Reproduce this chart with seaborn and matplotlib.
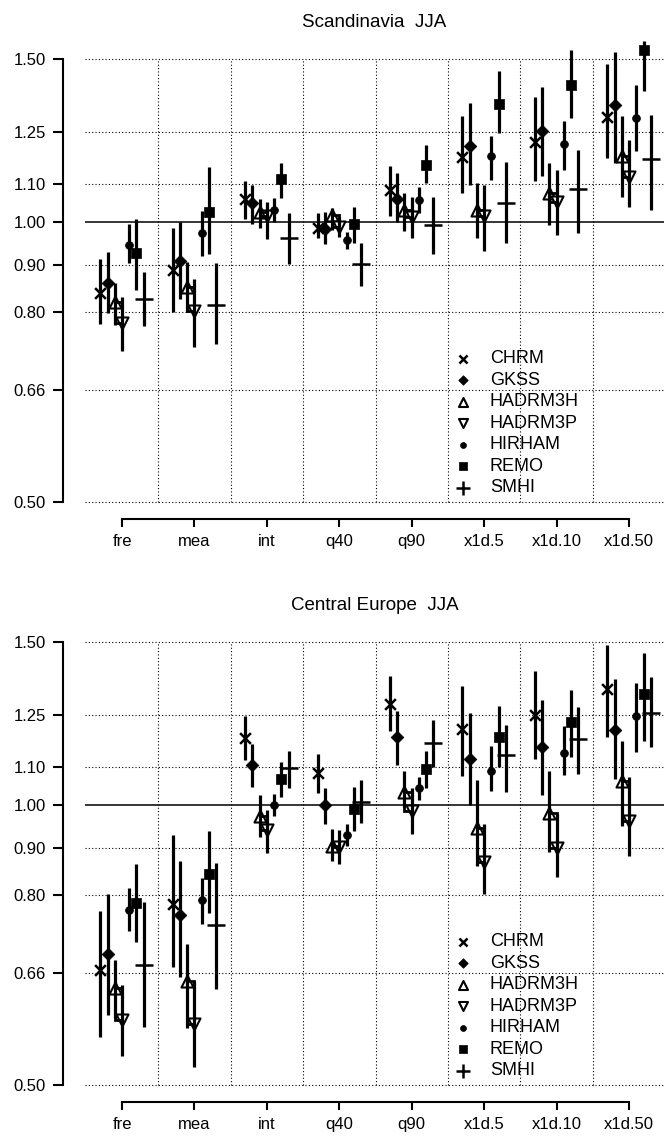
import numpy as np
import matplotlib
matplotlib.use("Agg")
import matplotlib.pyplot as plt
from matplotlib.ticker import NullLocator
import seaborn as sns

sns.set_style("white")
plt.rcParams['font.family'] = ['Liberation Sans', 'DejaVu Sans']
plt.rcParams['text.color'] = 'black'
plt.rcParams['axes.labelcolor'] = 'black'
plt.rcParams['xtick.color'] = 'black'
plt.rcParams['ytick.color'] = 'black'

groups = ['fre', 'mea', 'int', 'q40', 'q90', 'x1d.5', 'x1d.10', 'x1d.50']
models = ['CHRM', 'GKSS', 'HADRM3H', 'HADRM3P', 'HIRHAM', 'REMO', 'SMHI']
ytick_vals = [0.50, 0.66, 0.80, 0.90, 1.00, 1.10, 1.25, 1.50]
ytick_labels = ['0.50', '0.66', '0.80', '0.90', '1.00', '1.10', '1.25', '1.50']
titles = ['Scandinavia  JJA', 'Central Europe  JJA']

# ---- Scandinavia JJA ----
sc_val = {
    'CHRM':    [0.839, 0.888, 1.059, 0.987, 1.084, 1.175, 1.220, 1.300],
    'GKSS':    [0.861, 0.908, 1.049, 0.984, 1.059, 1.210, 1.256, 1.337],
    'HADRM3H': [0.820, 0.851, 1.027, 1.018, 1.030, 1.030, 1.075, 1.180],
    'HADRM3P': [0.780, 0.803, 1.016, 0.989, 1.014, 1.016, 1.051, 1.118],
    'HIRHAM':  [0.946, 0.974, 1.031, 0.957, 1.057, 1.180, 1.216, 1.295],
    'REMO':    [0.927, 1.026, 1.113, 0.995, 1.152, 1.343, 1.406, 1.532],
    'SMHI':    [0.827, 0.815, 0.963, 0.903, 0.993, 1.049, 1.086, 1.171],
}
sc_lo = {
    'CHRM':    [0.777, 0.800, 1.008, 0.961, 1.016, 1.077, 1.107, 1.173],
    'GKSS':    [0.799, 0.827, 0.997, 0.947, 1.000, 1.098, 1.121, 1.159],
    'HADRM3H': [0.775, 0.800, 0.985, 0.981, 0.979, 0.963, 0.993, 1.066],
    'HADRM3P': [0.727, 0.734, 0.959, 0.965, 0.961, 0.932, 0.969, 1.038],
    'HIRHAM':  [0.904, 0.921, 1.000, 0.937, 1.023, 1.111, 1.140, 1.193],
    'REMO':    [0.846, 0.925, 1.063, 0.949, 1.102, 1.249, 1.297, 1.386],
    'SMHI':    [0.774, 0.739, 0.903, 0.853, 0.925, 0.949, 0.975, 1.031],
}
sc_hi = {
    'CHRM':    [0.914, 0.987, 1.107, 1.023, 1.151, 1.302, 1.364, 1.482],
    'GKSS':    [0.929, 1.000, 1.098, 1.027, 1.130, 1.346, 1.398, 1.525],
    'HADRM3H': [0.860, 0.906, 1.059, 1.036, 1.075, 1.102, 1.159, 1.302],
    'HADRM3P': [0.830, 0.870, 1.053, 1.014, 1.066, 1.098, 1.140, 1.228],
    'HIRHAM':  [0.995, 1.029, 1.062, 0.977, 1.093, 1.239, 1.286, 1.406],
    'REMO':    [1.008, 1.146, 1.159, 1.040, 1.213, 1.457, 1.532, 1.570],
    'SMHI':    [0.884, 0.904, 1.024, 0.950, 1.066, 1.162, 1.198, 1.307],
}

# ---- Central Europe JJA ----
ce_val = {
    'CHRM':    [0.665, 0.783, 1.181, 1.084, 1.287, 1.209, 1.252, 1.335],
    'GKSS':    [0.692, 0.761, 1.105, 1.000, 1.184, 1.122, 1.155, 1.206],
    'HADRM3H': [0.636, 0.646, 0.975, 0.905, 1.034, 0.945, 0.982, 1.063],
    'HADRM3P': [0.587, 0.582, 0.941, 0.901, 0.986, 0.868, 0.900, 0.961],
    'HIRHAM':  [0.772, 0.790, 1.002, 0.930, 1.044, 1.090, 1.140, 1.249],
    'REMO':    [0.785, 0.844, 1.067, 0.990, 1.094, 1.186, 1.230, 1.319],
    'SMHI':    [0.673, 0.743, 1.096, 1.008, 1.167, 1.133, 1.178, 1.259],
}
ce_lo = {
    'CHRM':    [0.563, 0.670, 1.119, 1.031, 1.203, 1.075, 1.121, 1.186],
    'GKSS':    [0.594, 0.654, 1.047, 0.955, 1.105, 1.002, 1.025, 1.069],
    'HADRM3H': [0.590, 0.575, 0.925, 0.872, 0.996, 0.860, 0.890, 0.950],
    'HADRM3P': [0.537, 0.523, 0.889, 0.864, 0.932, 0.803, 0.837, 0.882],
    'HIRHAM':  [0.733, 0.745, 0.973, 0.905, 1.013, 1.036, 1.078, 1.143],
    'REMO':    [0.712, 0.765, 1.021, 0.939, 1.043, 1.100, 1.128, 1.174],
    'SMHI':    [0.577, 0.634, 1.043, 0.957, 1.100, 1.034, 1.080, 1.157],
}
ce_hi = {
    'CHRM':    [0.770, 0.930, 1.249, 1.135, 1.378, 1.346, 1.395, 1.488],
    'GKSS':    [0.803, 0.871, 1.164, 1.045, 1.263, 1.259, 1.300, 1.369],
    'HADRM3H': [0.682, 0.709, 1.027, 0.943, 1.089, 1.064, 1.089, 1.174],
    'HADRM3P': [0.640, 0.646, 0.989, 0.941, 1.043, 0.954, 0.979, 1.073],
    'HIRHAM':  [0.814, 0.835, 1.028, 0.954, 1.073, 1.160, 1.218, 1.356],
    'REMO':    [0.864, 0.939, 1.113, 1.047, 1.145, 1.279, 1.333, 1.461],
    'SMHI':    [0.787, 0.866, 1.145, 1.064, 1.235, 1.221, 1.275, 1.376],
}

panels = [(sc_val, sc_lo, sc_hi), (ce_val, ce_lo, ce_hi)]

# marker styles
mstyle = {
    'CHRM':    dict(marker='x', s=60, color='black', linewidth=1.8),
    'GKSS':    dict(marker='D', s=42, color='black', edgecolor='black', linewidth=0.5),
    'HADRM3H': dict(marker='^', s=75, color='white', edgecolor='black', linewidth=1.5),
    'HADRM3P': dict(marker='v', s=75, color='white', edgecolor='black', linewidth=1.5),
    'HIRHAM':  dict(marker='o', s=32, color='black', edgecolor='black', linewidth=0.5),
    'REMO':    dict(marker='s', s=50, color='black', edgecolor='black', linewidth=0.5),
    'SMHI':    dict(marker='+', s=160, color='black', linewidth=1.8),
}

W, H = 664, 1139
fig = plt.figure(figsize=(W / 100, H / 100), dpi=100)

px_per_ln = 403.0
ax_left_px = 85
ax_specs = [(37, 519, 59), (620, 1102, 642)]  # top px, bottom px, px of 1.50
g_x = np.arange(len(groups))
step = 0.1

for pi, (vals, los, his) in enumerate(panels):
    top, bot, y15 = ax_specs[pi]
    ax = fig.add_axes([ax_left_px / W, 1 - bot / H, (W - ax_left_px) / W, (bot - top) / H])
    ax.set_yscale('log')
    hi_lim = 1.5 * np.exp((y15 - top) / px_per_ln)
    lo_lim = hi_lim * np.exp(-(bot - top) / px_per_ln)
    ax.set_ylim(lo_lim, hi_lim)
    ax.set_xlim(-0.511, 7.483)

    # grid
    dot = (0, (1, 2))
    for t in ytick_vals:
        if t == 1.0:
            ax.axhline(1.0, color='black', lw=1.1, zorder=1)
        else:
            ax.axhline(t, color='black', lw=0.8, ls=dot, zorder=1)
    ax.vlines(g_x[:-1] + 0.5, 0.5, 1.5, colors='black', lw=0.8, linestyles=[dot], zorder=1)

    # bars and markers
    for mi, m in enumerate(models):
        xs = g_x + (mi - 3) * step
        ax.vlines(xs, los[m], his[m], colors='black', lw=2.3, zorder=5)
        kw = dict(mstyle[m])
        sns.scatterplot(x=xs, y=vals[m], ax=ax, label=m, zorder=4, **kw)

    # connecting box between HADRM3H and HADRM3P
    xh = g_x + (2 - 3) * step
    xp = g_x + (3 - 3) * step
    for gi in range(len(groups)):
        yh = vals['HADRM3H'][gi]
        yp = vals['HADRM3P'][gi]
        ax.plot([xh[gi], xp[gi], xp[gi], xh[gi], xh[gi]], [yh, yh, yp, yp, yh],
                color='black', lw=2.0, zorder=5, solid_joinstyle='miter')

    # axes styling
    sns.despine(ax=ax, top=True, right=True)
    ax.spines['left'].set_position(('outward', 22 * 0.72))
    ax.spines['left'].set_bounds(0.5, 1.5)
    ax.spines['bottom'].set_bounds(0, 7)
    for sp in ['left', 'bottom']:
        ax.spines[sp].set_linewidth(1.5)
        ax.spines[sp].set_color('black')
    ax.set_yticks(ytick_vals)
    ax.set_yticklabels(ytick_labels)
    ax.yaxis.set_minor_locator(NullLocator())
    ax.set_xticks(g_x)
    ax.set_xticklabels(groups)
    ax.tick_params(axis='y', length=7.2, width=1.5, pad=5.0, labelsize=12, colors='black', left=True)
    ax.tick_params(axis='x', length=5.4, width=1.5, pad=5.5, labelsize=12, colors='black', bottom=True)
    ax.set_xlabel('')
    ax.set_ylabel('')
    ax.set_title(titles[pi], fontsize=13.5, pad=7, color='black')
    ax.patch.set_alpha(0)

    leg = ax.legend(loc='upper left', bbox_to_anchor=(0.637, 0.350), frameon=False,
                    fontsize=13, handlelength=1.0, handletextpad=1.0, labelspacing=0.25,
                    borderpad=0, borderaxespad=0, markerscale=0.75)
    for t in leg.get_texts():
        t.set_color('black')

fig.savefig('out.png', dpi=100)
